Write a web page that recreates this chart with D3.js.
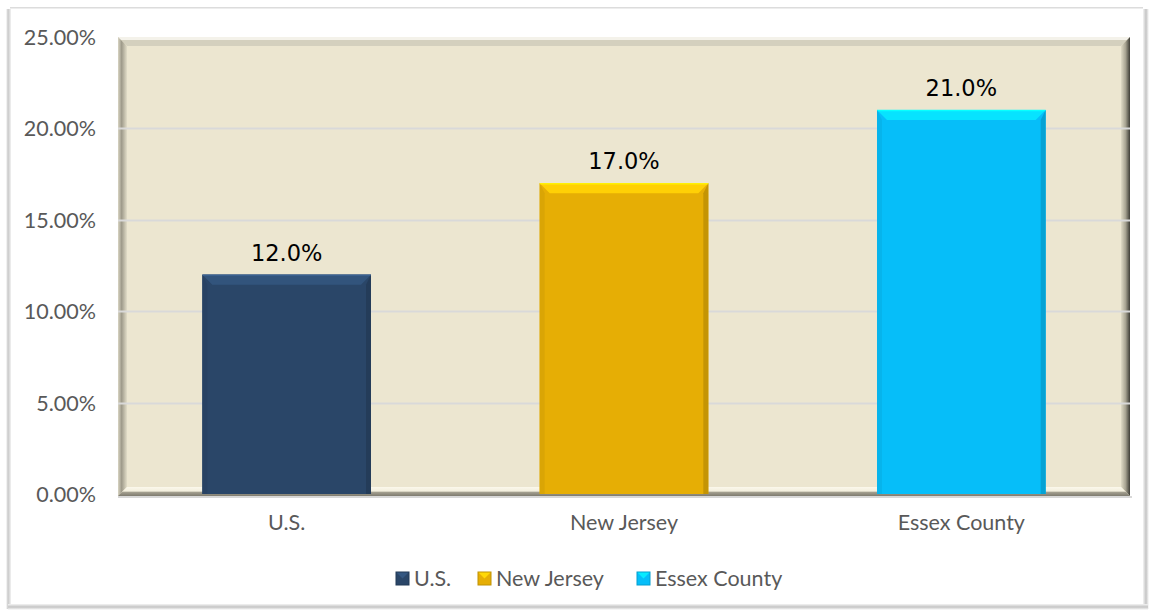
<!DOCTYPE html>
<html><head><meta charset="utf-8">
<script src="https://cdn.jsdelivr.net/npm/d3@7"></script>
<style>body{margin:0;background:#fff}svg{display:block}</style>
</head><body>
<svg id="c" width="1153" height="614"></svg>
<script>
const categories = ["U.S.", "New Jersey", "Essex County"];
const values = [0.12, 0.17, 0.21];
const labels = ["12.0%", "17.0%", "21.0%"];
const yTicks = [0, 0.05, 0.10, 0.15, 0.20, 0.25];
const colors = ["#2A4668", "#E6AE05", "#06BEF9"];

const svg = d3.select("#c");
const W = 1153, H = 614;
const L = 118, R = 1130, T = 37, B = 494;
const x = d3.scaleBand().domain(categories).range([L, R]).paddingInner(0.5).paddingOuter(0.25);
const y = d3.scaleLinear().domain([0, 0.25]).range([B, T]);
const FONT = "Lato, 'Open Sans', sans-serif";

const defs = svg.append("defs");
function lg(id, x1,y1,x2,y2, stops){
  const g = defs.append("linearGradient").attr("id", id).attr("x1",x1).attr("y1",y1).attr("x2",x2).attr("y2",y2);
  stops.forEach(s=>g.append("stop").attr("offset",s[0]).attr("stop-color",s[1]));
}
lg("shL","0","0","1","0",[[0,"#ffffff"],[0.4,"#c8c8c8"],[1,"#f2f2f2"]]);
lg("shB","0","0","0","1",[[0,"#f4f4f4"],[0.5,"#c4c4c4"],[1,"#ffffff"]]);
lg("shR","0","0","1","0",[[0,"#f4f4f4"],[0.5,"#c4c4c4"],[1,"#ffffff"]]);
svg.append("rect").attr("x",6).attr("y",9).attr("width",5).attr("height",600).attr("fill","url(#shL)");
svg.append("rect").attr("x",1143).attr("y",9).attr("width",6).attr("height",600).attr("fill","url(#shR)");
svg.append("rect").attr("x",8).attr("y",604).attr("width",1140).attr("height",6).attr("fill","url(#shB)");
svg.append("rect").attr("x",10).attr("y",7).attr("width",1133).attr("height",1.5).attr("fill","#dcdcdc");

// plot area bevel frame
const f = 9;
svg.append("rect").attr("x",L).attr("y",T).attr("width",R-L).attr("height",B-T+2).attr("fill","#ECE6D0");
svg.append("polygon").attr("points",`${L},${T} ${R},${T} ${R-f},${T+f} ${L+f},${T+f}`).attr("fill","#D4D0BE");
svg.append("polygon").attr("points",`${L},${T} ${R},${T} ${R-2},${T+3} ${L+2},${T+3}`).attr("fill","#F4F2EA");
lg("bvL","0","0","1","0",[[0,"#D9D5C3"],[0.4,"#9E9A8A"],[1,"#E2DDC8"]]);
svg.append("polygon").attr("points",`${L},${T} ${L+f},${T+f} ${L+f},${B+2-f} ${L},${B+2}`).attr("fill","url(#bvL)");
lg("bvR","0","0","1","0",[[0,"#E0DBC6"],[0.5,"#A8A492"],[1,"#3E3D36"]]);
svg.append("polygon").attr("points",`${R},${T} ${R-f},${T+f} ${R-f},${B+2-f} ${R},${B+2}`).attr("fill","url(#bvR)");
lg("bvB","0","0","0","1",[[0,"#FBF8EC"],[0.45,"#F3EFDD"],[0.6,"#A29E8E"],[1,"#7E7B6F"]]);
svg.append("polygon").attr("points",`${L},${B+2} ${R},${B+2} ${R-f},${B+2-f} ${L+f},${B+2-f}`).attr("fill","url(#bvB)");
svg.append("rect").attr("x",L).attr("y",B+2).attr("width",R-L+2).attr("height",2).attr("fill","#D8D8D8");

// gridlines
svg.append("g").selectAll("line").data(yTicks.filter(d=>d>0 && d<0.25)).join("line")
  .attr("x1",L).attr("x2",R).attr("y1",d=>Math.round(y(d))+0.5).attr("y2",d=>Math.round(y(d))+0.5)
  .attr("stroke","#D9D9D9").attr("stroke-width",2);

// y axis labels
const yAxis = d3.axisLeft(y).tickValues(yTicks).tickFormat(d3.format(".2%")).tickSize(0).tickPadding(0);
const ya = svg.append("g").attr("transform",`translate(${96},0)`).call(yAxis);
ya.select(".domain").remove();
ya.selectAll("text").attr("font-family",FONT).attr("font-size",21.5).attr("fill","#595959").attr("dy","0.35em");

// x axis labels
const xAxis = d3.axisBottom(x).tickSize(0).tickPadding(0);
const xa = svg.append("g").attr("transform",`translate(0,${515})`).call(xAxis);
xa.select(".domain").remove();
xa.selectAll("text").attr("font-family",FONT).attr("font-size",21.5).attr("fill","#595959");

// bars with bevel
const bv = 10;
const bars = svg.append("g").selectAll("g").data(categories).join("g");
bars.each(function(c,i){
  const g = d3.select(this);
  const x0 = x(c), w = x.bandwidth(), y0 = y(values[i]), h = y(0) - y(values[i]);
  const col = d3.color(colors[i]);
  g.append("rect").attr("x",x0).attr("y",y0).attr("width",w).attr("height",h).attr("fill",colors[i]);
  g.append("polygon").attr("points",`${x0},${y0} ${x0+w},${y0} ${x0+w-bv},${y0+bv} ${x0+bv},${y0+bv}`).attr("fill",col.brighter(0.5));
  g.append("line").attr("x1",x0).attr("x2",x0+w).attr("y1",y0+0.5).attr("y2",y0+0.5).attr("stroke",col.brighter(0.9)).attr("stroke-width",1.5);
  g.append("polygon").attr("points",`${x0},${y0} ${x0+bv*0.5},${y0+bv} ${x0+bv*0.5},${y0+h} ${x0},${y0+h}`).attr("fill",col.darker(0.15));
  g.append("polygon").attr("points",`${x0+w},${y0} ${x0+w-bv*0.5},${y0+bv} ${x0+w-bv*0.5},${y0+h} ${x0+w},${y0+h}`).attr("fill",col.darker(0.45));
  g.append("text").attr("x",x0+w/2).attr("y",y0-14).attr("text-anchor","middle")
    .attr("font-family","'DejaVu Sans', sans-serif").attr("font-size",22.5).attr("fill","#000").text(labels[i]);
});

// legend
const legendX = [396, 478, 637];
const lgG = svg.append("g").selectAll("g").data(categories).join("g").attr("transform",(d,i)=>`translate(${legendX[i]},${572})`);
lgG.each(function(c,i){
  const g = d3.select(this);
  const col = d3.color(colors[i]);
  g.append("rect").attr("width",13).attr("height",13).attr("fill",colors[i]);
  g.append("polygon").attr("points","0,0 13,0 6.5,6.5").attr("fill",col.brighter(0.6));
  g.append("rect").attr("width",13).attr("height",13).attr("fill","none").attr("stroke",col.darker(0.5)).attr("stroke-width",1);
  g.append("text").attr("x",18).attr("y",14).attr("font-family",FONT).attr("font-size",21.5).attr("fill","#595959").text(c);
});
</script>
</body></html>
